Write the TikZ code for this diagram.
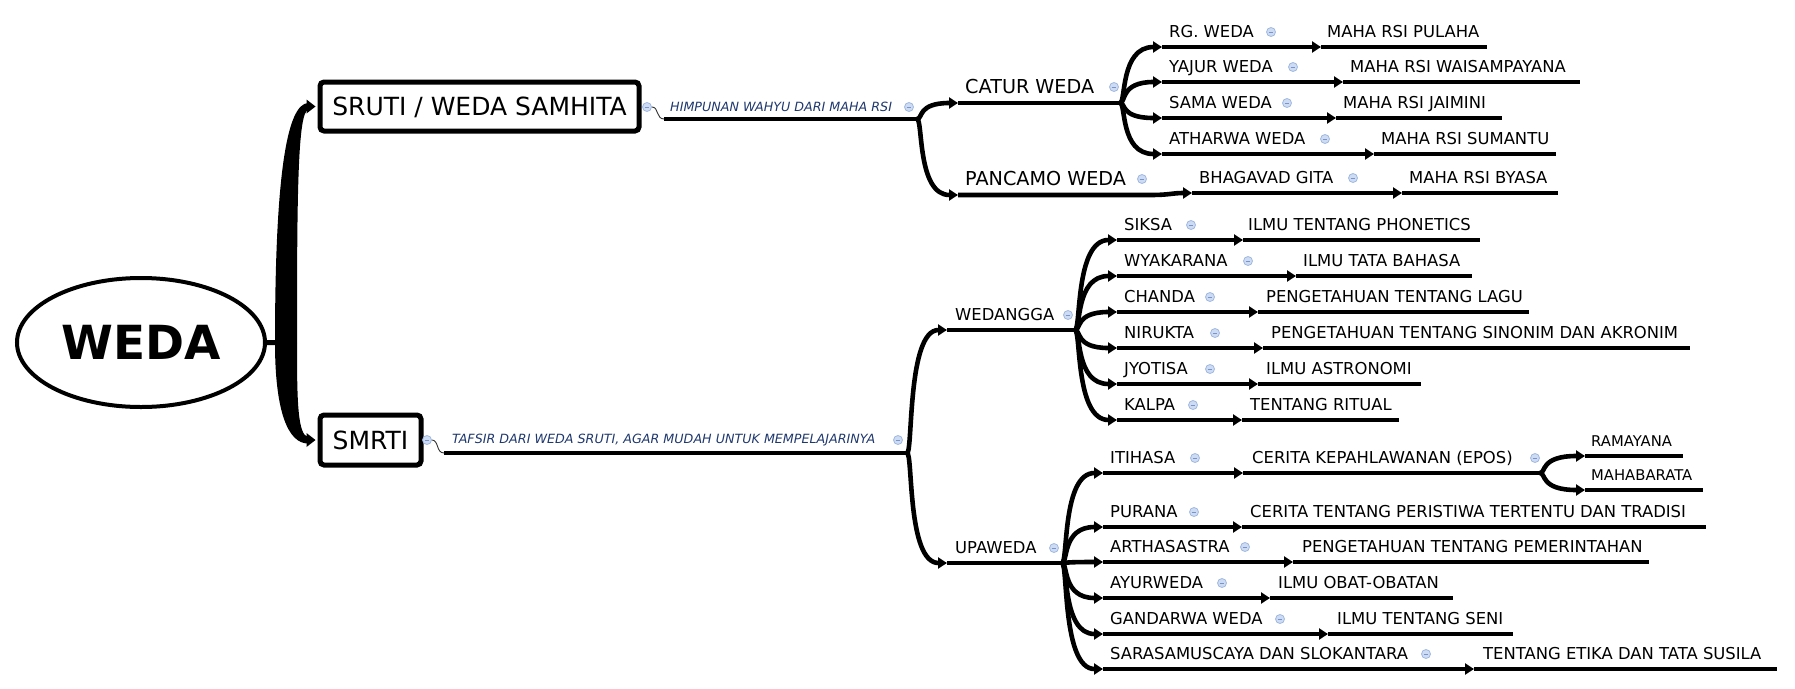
\documentclass[tikz,border=0pt]{standalone}
\usepackage{fontspec}
\setmainfont{DejaVu Sans}
\usetikzlibrary{arrows.meta,calc,shapes.geometric}
\definecolor{lbl}{RGB}{31,56,110}
\definecolor{icfill}{RGB}{205,220,243}
\definecolor{icdraw}{RGB}{160,184,224}
\definecolor{icmin}{RGB}{120,148,202}
\newcommand\mmleaf{\fontsize{16.4pt}{18pt}\selectfont}
\newcommand\mmmid{\fontsize{19.2pt}{21pt}\selectfont}
\newcommand\mmsml{\fontsize{14.8pt}{16pt}\selectfont}
\newcommand\mmlbl{\fontsize{12.7pt}{14pt}\selectfont\itshape}
\newcommand\mmbx{\fontsize{25pt}{27pt}\selectfont}
\newcommand\mmroot{\fontsize{47pt}{50pt}\selectfont\bfseries}
\newcommand\mmicon[3]{%
  \node[icon] (#1) at (#2,#3) {};
  \draw[icmin,line width=1pt] ($(#1)+(-2.4,0)$) -- ($(#1)+(2.4,0)$);
}
\begin{document}
\begin{tikzpicture}[x=1pt,y=-1pt,
  uline/.style={line width=4.6pt},
  conn/.style={line width=4.6pt,-{Triangle[length=9pt,width=11pt]}},
  thinc/.style={line width=0.9pt,draw=black!80},
  txt/.style={inner sep=0pt,anchor=base west,font=\mmleaf},
  midt/.style={txt,font=\mmmid},
  smlt/.style={txt,font=\mmsml},
  lbltxt/.style={txt,font=\mmlbl,text=lbl},
  icon/.style={circle,fill=icfill,draw=icdraw,line width=0.8pt,minimum size=9pt,inner sep=0pt},
  box/.style={draw,line width=5pt,rounded corners=4pt,inner sep=0pt,font=\mmbx,text height=18.2pt,text depth=0pt},
]
\useasboundingbox (0,0) rectangle (1795,688);

% ---------- root ----------
\node[ellipse,draw,line width=4pt,minimum width=248pt,minimum height=129pt,inner sep=0pt,
      font=\mmroot,text height=34pt,text depth=0pt] (weda) at (141,342.5) {WEDA};
\node[box,minimum width=319pt,minimum height=49pt] (sruti) at (479.5,106.5) {SRUTI / WEDA SAMHITA};
\node[box,minimum width=101pt,minimum height=50pt] (smrti) at (370.5,440) {SMRTI};

\coordinate (rt) at (286,343);
\draw[line width=5pt] (weda.east) -- (rt);
% tapered trunk to SRUTI
\fill ($(rt)+(-11,0)$) .. controls ($(rt)+(-11,-165)$) and ($(sruti.west)+(-31,-3.5)$) .. ($(sruti.west)+(-9,-3.5)$)
  -- ($(sruti.west)+(-9,3.5)$) .. controls ($(sruti.west)+(-20,3.5)$) and ($(rt)+(11,-143)$) .. ($(rt)+(11,0)$) -- cycle;
\fill ($(sruti.west)+(-11,-7)$) -- ($(sruti.west)+(-2,0)$) -- ($(sruti.west)+(-11,7)$) -- cycle;
% tapered trunk to SMRTI
\fill ($(rt)+(-11,0)$) .. controls ($(rt)+(-11,67)$) and ($(smrti.west)+(-30,4)$) .. ($(smrti.west)+(-9,3.5)$)
  -- ($(smrti.west)+(-9,-3)$) .. controls ($(smrti.west)+(-20,-4)$) and ($(rt)+(11,57)$) .. ($(rt)+(11,0)$) -- cycle;
\fill ($(smrti.west)+(-11,-7)$) -- ($(smrti.west)+(-2,0)$) -- ($(smrti.west)+(-11,7)$) -- cycle;

% ---------- SRUTI branch ----------
\mmicon{ic1}{647}{107}
\coordinate (h1s) at (664,119);
\coordinate (h1e) at (917,119);
\draw[thinc] (ic1.east) .. controls ($(ic1.east)+(7,0)$) and ($(h1s)+(-8,0)$) .. (h1s);
\draw[uline] (h1s) -- (h1e);
\node[lbltxt] (h1) at ($(h1s)+(6,-8)$) {HIMPUNAN WAHYU DARI MAHA RSI};
\mmicon{ic2}{909}{107}

\coordinate (catus) at (958,103);
\coordinate (catue) at (1120,103);
\coordinate (pancs) at (958,195);
\coordinate (pance) at (1150,195);
\draw[conn] (h1e) .. controls ($(h1e)+(6,0)$) and (h1e|-catus) .. (catus);
\draw[conn] (h1e) .. controls ($(h1e)+(6,0)$) and (h1e|-pancs) .. (pancs);

\draw[uline] (catus) -- (catue);
\node[midt] (catur) at ($(catus)+(7,-10)$) {CATUR WEDA};
\mmicon{ic5}{1114}{87}

\coordinate (rgs) at (1162,47);
\coordinate (yajs) at (1162,82);
\coordinate (samas) at (1162,118);
\coordinate (aths) at (1162,154);
\foreach \c in {rgs,yajs,samas,aths}
  \draw[conn] (catue) .. controls ($(catue)+(6,0)$) and (catue|-\c) .. (\c);

\coordinate (puls) at (1321,47);  \coordinate (pule) at (1487,47);
\coordinate (wais) at (1343,82);  \coordinate (waie) at (1580,82);
\coordinate (jais) at (1336,118); \coordinate (jaie) at (1502,118);
\coordinate (sums) at (1374,154); \coordinate (sume) at (1556,154);

\draw[conn] (rgs) -- (puls);   \draw[uline] (puls) -- (pule);
\draw[conn] (yajs) -- (wais);  \draw[uline] (wais) -- (waie);
\draw[conn] (samas) -- (jais); \draw[uline] (jais) -- (jaie);
\draw[conn] (aths) -- (sums);  \draw[uline] (sums) -- (sume);

\node[txt] (rg) at ($(rgs)+(7,-10)$) {RG. WEDA};
\node[txt] (yaj) at ($(yajs)+(7,-10)$) {YAJUR WEDA};
\node[txt] (sama) at ($(samas)+(7,-10)$) {SAMA WEDA};
\node[txt] (ath) at ($(aths)+(7,-10)$) {ATHARWA WEDA};
\node[txt] (pul) at ($(puls)+(6,-10)$) {MAHA RSI PULAHA};
\node[txt] (wai) at ($(wais)+(7,-10)$) {MAHA RSI WAISAMPAYANA};
\node[txt] (jai) at ($(jais)+(7,-10)$) {MAHA RSI JAIMINI};
\node[txt] (sum) at ($(sums)+(7,-10)$) {MAHA RSI SUMANTU};
\mmicon{ic6}{1271}{32}
\mmicon{ic7}{1293}{67}
\mmicon{ic8}{1287}{103}
\mmicon{ic9}{1325}{139}

\coordinate (bhas) at (1192,193);
\coordinate (byas) at (1402,193); \coordinate (byae) at (1558,193);
\draw[conn] (pancs) -- (pance) .. controls ($(pance)+(20,0)$) and ($(bhas)+(-20,0)$) .. (bhas);
\node[midt] (panc) at ($(pancs)+(7,-10)$) {PANCAMO WEDA};
\mmicon{ic10}{1142}{179}
\draw[conn] (bhas) -- (byas); \draw[uline] (byas) -- (byae);
\node[txt] (bha) at ($(bhas)+(7,-10)$) {BHAGAVAD GITA};
\node[txt] (bya) at ($(byas)+(7,-10)$) {MAHA RSI BYASA};
\mmicon{ic11}{1353}{178}

% ---------- SMRTI branch ----------
\mmicon{ic3}{427}{440}
\coordinate (t1s) at (444,453);
\coordinate (t1e) at (907,453);
\draw[thinc] (ic3.east) .. controls ($(ic3.east)+(7,0)$) and ($(t1s)+(-8,0)$) .. (t1s);
\draw[uline] (t1s) -- (t1e);
\node[lbltxt] (t1) at ($(t1s)+(8,-10)$) {TAFSIR DARI WEDA SRUTI, AGAR MUDAH UNTUK MEMPELAJARINYA};
\mmicon{ic4}{898}{440}

\coordinate (weds) at (947,330); \coordinate (wede) at (1075,330);
\coordinate (upas) at (947,563); \coordinate (upae) at (1062,563);
\draw[conn] (t1e) .. controls ($(t1e)+(6,0)$) and (t1e|-weds) .. (weds);
\draw[conn] (t1e) .. controls ($(t1e)+(6,0)$) and (t1e|-upas) .. (upas);

% WEDANGGA
\draw[uline] (weds) -- (wede);
\node[txt] (wed) at ($(weds)+(8,-10)$) {WEDANGGA};
\mmicon{ic12}{1068}{315}
\coordinate (siks) at (1117,240);
\coordinate (wyas) at (1117,276);
\coordinate (chas) at (1117,312);
\coordinate (nirs) at (1117,348);
\coordinate (jyos) at (1117,384);
\coordinate (kals) at (1117,420);
\foreach \c in {siks,wyas,chas,nirs,jyos,kals}
  \draw[conn] (wede) .. controls ($(wede)+(6,0)$) and (wede|-\c) .. (\c);

\coordinate (phos) at (1243,240); \coordinate (phoe) at (1480,240);
\coordinate (bahs) at (1296,276); \coordinate (bahe) at (1472,276);
\coordinate (lags) at (1258,312); \coordinate (lage) at (1529,312);
\coordinate (sins) at (1263,348); \coordinate (sine) at (1690,348);
\coordinate (asts) at (1258,384); \coordinate (aste) at (1421,384);
\coordinate (rits) at (1242,420); \coordinate (rite) at (1399,420);
\draw[conn] (siks) -- (phos); \draw[uline] (phos) -- (phoe);
\draw[conn] (wyas) -- (bahs); \draw[uline] (bahs) -- (bahe);
\draw[conn] (chas) -- (lags); \draw[uline] (lags) -- (lage);
\draw[conn] (nirs) -- (sins); \draw[uline] (sins) -- (sine);
\draw[conn] (jyos) -- (asts); \draw[uline] (asts) -- (aste);
\draw[conn] (kals) -- (rits); \draw[uline] (rits) -- (rite);

\node[txt] (sik) at ($(siks)+(7,-10)$) {SIKSA};
\node[txt] (wya) at ($(wyas)+(7,-10)$) {WYAKARANA};
\node[txt] (cha) at ($(chas)+(7,-10)$) {CHANDA};
\node[txt] (nir) at ($(nirs)+(7,-10)$) {NIRUKTA};
\node[txt] (jyo) at ($(jyos)+(7,-10)$) {JYOTISA};
\node[txt] (kal) at ($(kals)+(7,-10)$) {KALPA};
\node[txt] (pho) at ($(phos)+(5,-10)$) {ILMU TENTANG PHONETICS};
\node[txt] (bah) at ($(bahs)+(7,-10)$) {ILMU TATA BAHASA};
\node[txt] (lag) at ($(lags)+(8,-10)$) {PENGETAHUAN TENTANG LAGU};
\node[txt] (sin) at ($(sins)+(8,-10)$) {PENGETAHUAN TENTANG SINONIM DAN AKRONIM};
\node[txt] (ast) at ($(asts)+(8,-10)$) {ILMU ASTRONOMI};
\node[txt] (rit) at ($(rits)+(8,-10)$) {TENTANG RITUAL};
\mmicon{ic13}{1191}{225}
\mmicon{ic14}{1248}{261}
\mmicon{ic15}{1210}{297}
\mmicon{ic16}{1215}{333}
\mmicon{ic17}{1210}{369}
\mmicon{ic18}{1193}{405}

% UPAWEDA
\draw[uline] (upas) -- (upae);
\node[txt] (upa) at ($(upas)+(8,-10)$) {UPAWEDA};
\mmicon{ic19}{1054}{548}
\coordinate (itis) at (1103,473);
\coordinate (purs) at (1103,527);
\coordinate (arts) at (1103,562);
\coordinate (ayus) at (1103,598);
\coordinate (gans) at (1103,634);
\coordinate (sars) at (1103,669);
\foreach \c in {itis,purs,arts,ayus,gans,sars}
  \draw[conn] (upae) .. controls ($(upae)+(6,0)$) and (upae|-\c) .. (\c);

\coordinate (keps) at (1243,473); \coordinate (kepe) at (1540,473);
\coordinate (trads) at (1242,527); \coordinate (trade) at (1706,527);
\coordinate (pems) at (1293,562); \coordinate (peme) at (1649,562);
\coordinate (obas) at (1270,598); \coordinate (obae) at (1453,598);
\coordinate (senis) at (1328,634); \coordinate (senie) at (1513,634);
\coordinate (etis) at (1474,669); \coordinate (etie) at (1777,669);
\draw[conn] (itis) -- (keps); \draw[uline] (keps) -- (kepe);
\draw[conn] (purs) -- (trads); \draw[uline] (trads) -- (trade);
\draw[conn] (arts) -- (pems); \draw[uline] (pems) -- (peme);
\draw[conn] (ayus) -- (obas); \draw[uline] (obas) -- (obae);
\draw[conn] (gans) -- (senis); \draw[uline] (senis) -- (senie);
\draw[conn] (sars) -- (etis); \draw[uline] (etis) -- (etie);

\node[txt] (iti) at ($(itis)+(7,-10)$) {ITIHASA};
\node[txt] (pur) at ($(purs)+(7,-10)$) {PURANA};
\node[txt] (art) at ($(arts)+(7,-10)$) {ARTHASASTRA};
\node[txt] (ayu) at ($(ayus)+(7,-10)$) {AYURWEDA};
\node[txt] (gan) at ($(gans)+(7,-10)$) {GANDARWA WEDA};
\node[txt] (sar) at ($(sars)+(7,-10)$) {SARASAMUSCAYA DAN SLOKANTARA};
\node[txt] (kep) at ($(keps)+(9,-10)$) {CERITA KEPAHLAWANAN (EPOS)};
\node[txt] (trad) at ($(trads)+(8,-10)$) {CERITA TENTANG PERISTIWA TERTENTU DAN TRADISI};
\node[txt] (pem) at ($(pems)+(9,-10)$) {PENGETAHUAN TENTANG PEMERINTAHAN};
\node[txt] (oba) at ($(obas)+(8,-10)$) {ILMU OBAT-OBATAN};
\node[txt] (seni) at ($(senis)+(9,-10)$) {ILMU TENTANG SENI};
\node[txt] (eti) at ($(etis)+(9,-10)$) {TENTANG ETIKA DAN TATA SUSILA};
\mmicon{ic20}{1195}{458}
\mmicon{ic21}{1194}{512}
\mmicon{ic22}{1245}{547}
\mmicon{ic23}{1222}{583}
\mmicon{ic24}{1280}{619}
\mmicon{ic25}{1426}{654}
\mmicon{ic26}{1535}{458}

\coordinate (rams) at (1585,456); \coordinate (rame) at (1683,456);
\coordinate (mahs) at (1585,490); \coordinate (mahe) at (1703,490);
\draw[conn] (kepe) .. controls ($(kepe)+(6,0)$) and (kepe|-rams) .. (rams);
\draw[conn] (kepe) .. controls ($(kepe)+(6,0)$) and (kepe|-mahs) .. (mahs);
\draw[uline] (rams) -- (rame);
\draw[uline] (mahs) -- (mahe);
\node[smlt] (ram) at ($(rams)+(6,-10)$) {RAMAYANA};
\node[smlt] (mah) at ($(mahs)+(6,-10)$) {MAHABARATA};
\end{tikzpicture}
\end{document}
